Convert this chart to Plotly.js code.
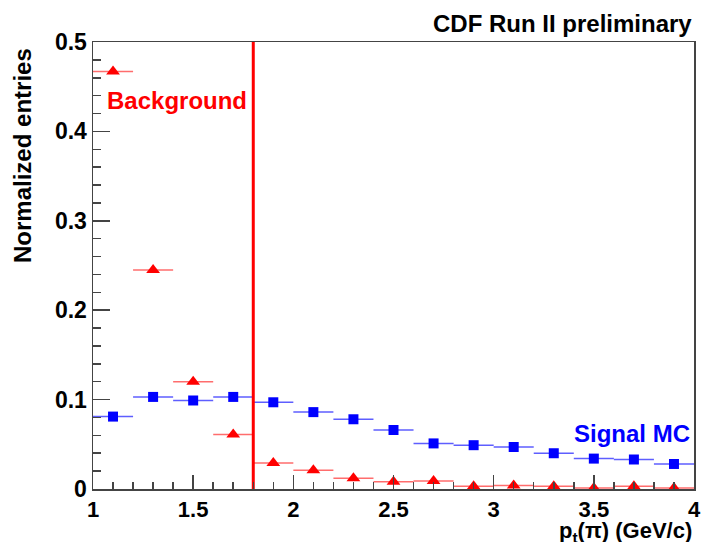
<!DOCTYPE html>
<html>
<head>
<meta charset="utf-8">
<script src="https://cdn.plot.ly/plotly-3.0.1.min.js"></script>
<style>html,body{margin:0;padding:0;background:#fff;}#chart{width:701px;height:542px;}</style>
</head>
<body>
<div id="chart"></div>
<script>
// Bin centres of pt(pi) [GeV/c]
const binCenters = [1.1, 1.3, 1.5, 1.7, 1.9, 2.1, 2.3, 2.5, 2.7, 2.9, 3.1, 3.3, 3.5, 3.7, 3.9];
const binHalfWidth = 0.1;
// Background (red triangles)
const backgroundValues = [0.467, 0.245, 0.120, 0.061, 0.029, 0.021, 0.012, 0.008, 0.009, 0.003, 0.004, 0.003, 0.001, 0.003, 0.001];
// Signal MC (blue squares)
const signalValues = [0.081, 0.103, 0.099, 0.103, 0.097, 0.086, 0.078, 0.066, 0.051, 0.049, 0.047, 0.040, 0.034, 0.033, 0.028];
// Cut value
const cutValue = 1.8;
const yRange = [0, 0.5];
const xTickVals = [1, 1.5, 2, 2.5, 3, 3.5, 4];
const xTickText = ['1', '1.5', '2', '2.5', '3', '3.5', '4'];
const yTickVals = [0, 0.1, 0.2, 0.3, 0.4, 0.5];
const yTickText = ['0', '0.1', '0.2', '0.3', '0.4', '0.5'];

const FONT = '"Liberation Sans", Arial, Helvetica, sans-serif';

const traces = [
  {
    x: binCenters, y: signalValues, type: 'scatter', mode: 'markers',
    marker: {symbol: 'square', size: 10, color: '#0000ff'},
    error_x: {type: 'constant', value: binHalfWidth, width: 0, color: 'rgba(40,40,255,0.75)', thickness: 1.5},
    showlegend: false, hoverinfo: 'x+y'
  },
  {
    x: binCenters, y: backgroundValues, type: 'scatter', mode: 'markers',
    marker: {symbol: 'triangle-up', size: 12, color: '#ff0000'},
    error_x: {type: 'constant', value: binHalfWidth, width: 0, color: 'rgba(255,60,60,0.75)', thickness: 1.5},
    showlegend: false, hoverinfo: 'x+y'
  },
  {
    x: [cutValue, cutValue], y: yRange, type: 'scatter', mode: 'lines',
    line: {color: '#ff0000', width: 3}, showlegend: false, hoverinfo: 'skip'
  }
];

const layout = {
  width: 701, height: 542,
  margin: {l: 93, r: 7, t: 42, b: 53},
  paper_bgcolor: '#ffffff', plot_bgcolor: '#ffffff',
  font: {family: FONT, size: 22, color: '#000'},
  showlegend: false,
  xaxis: {
    range: [1, 4], showgrid: false, zeroline: false,
    showline: true, linecolor: '#444', linewidth: 1.5, mirror: true,
    ticks: 'inside', ticklen: 14, tickwidth: 1.5, tickcolor: '#444',
    tickvals: xTickVals, ticktext: xTickText,
    tickfont: {family: FONT, size: 22, color: '#000', weight: 'bold'},
    minor: {ticks: 'inside', ticklen: 7, tickwidth: 1.5, tickcolor: '#444', dtick: 0.1, tick0: 1, showgrid: false}
  },
  yaxis: {
    range: yRange, showgrid: false, zeroline: false,
    showline: true, linecolor: '#444', linewidth: 1.5, mirror: true,
    ticks: 'inside', ticklen: 17, tickwidth: 1.5, tickcolor: '#444',
    tickvals: yTickVals, ticktext: yTickText,
    tickfont: {family: FONT, size: 23, color: '#000', weight: 'bold'},
    minor: {ticks: 'inside', ticklen: 8, tickwidth: 1.5, tickcolor: '#444', dtick: 0.02, tick0: 0, showgrid: false}
  },
  annotations: [
    {text: '<b>CDF Run II preliminary</b>', xref: 'paper', yref: 'paper', x: 1, y: 1, xanchor: 'right', yanchor: 'bottom', yshift: 3,
     showarrow: false, font: {family: FONT, size: 24, color: '#000'}},
    {text: '<b>Normalized entries</b>', xref: 'paper', yref: 'paper', x: 0, y: 0.745, xanchor: 'center', yanchor: 'middle', xshift: -70,
     textangle: -90, showarrow: false, font: {family: FONT, size: 24, color: '#000', weight: 'bold'}},
    {text: '<b>p<sub>t</sub>(π) (GeV/c)</b>', xref: 'paper', yref: 'paper', x: 1, y: 0, xanchor: 'right', yanchor: 'top', yshift: -27,
     showarrow: false, font: {family: FONT, size: 22, color: '#000'}},
    {text: '<b>Background</b>', xref: 'paper', yref: 'paper', x: 0.02, y: 0.87, xanchor: 'left', yanchor: 'middle',
     showarrow: false, font: {family: FONT, size: 24, color: '#ff0000'}},
    {text: '<b>Signal MC</b>', xref: 'paper', yref: 'paper', x: 0.997, y: 0.125, xanchor: 'right', yanchor: 'middle',
     showarrow: false, font: {family: FONT, size: 24, color: '#0000ff'}}
  ]
};

Plotly.newPlot('chart', traces, layout, {staticPlot: true, displayModeBar: false});
</script>
</body>
</html>
